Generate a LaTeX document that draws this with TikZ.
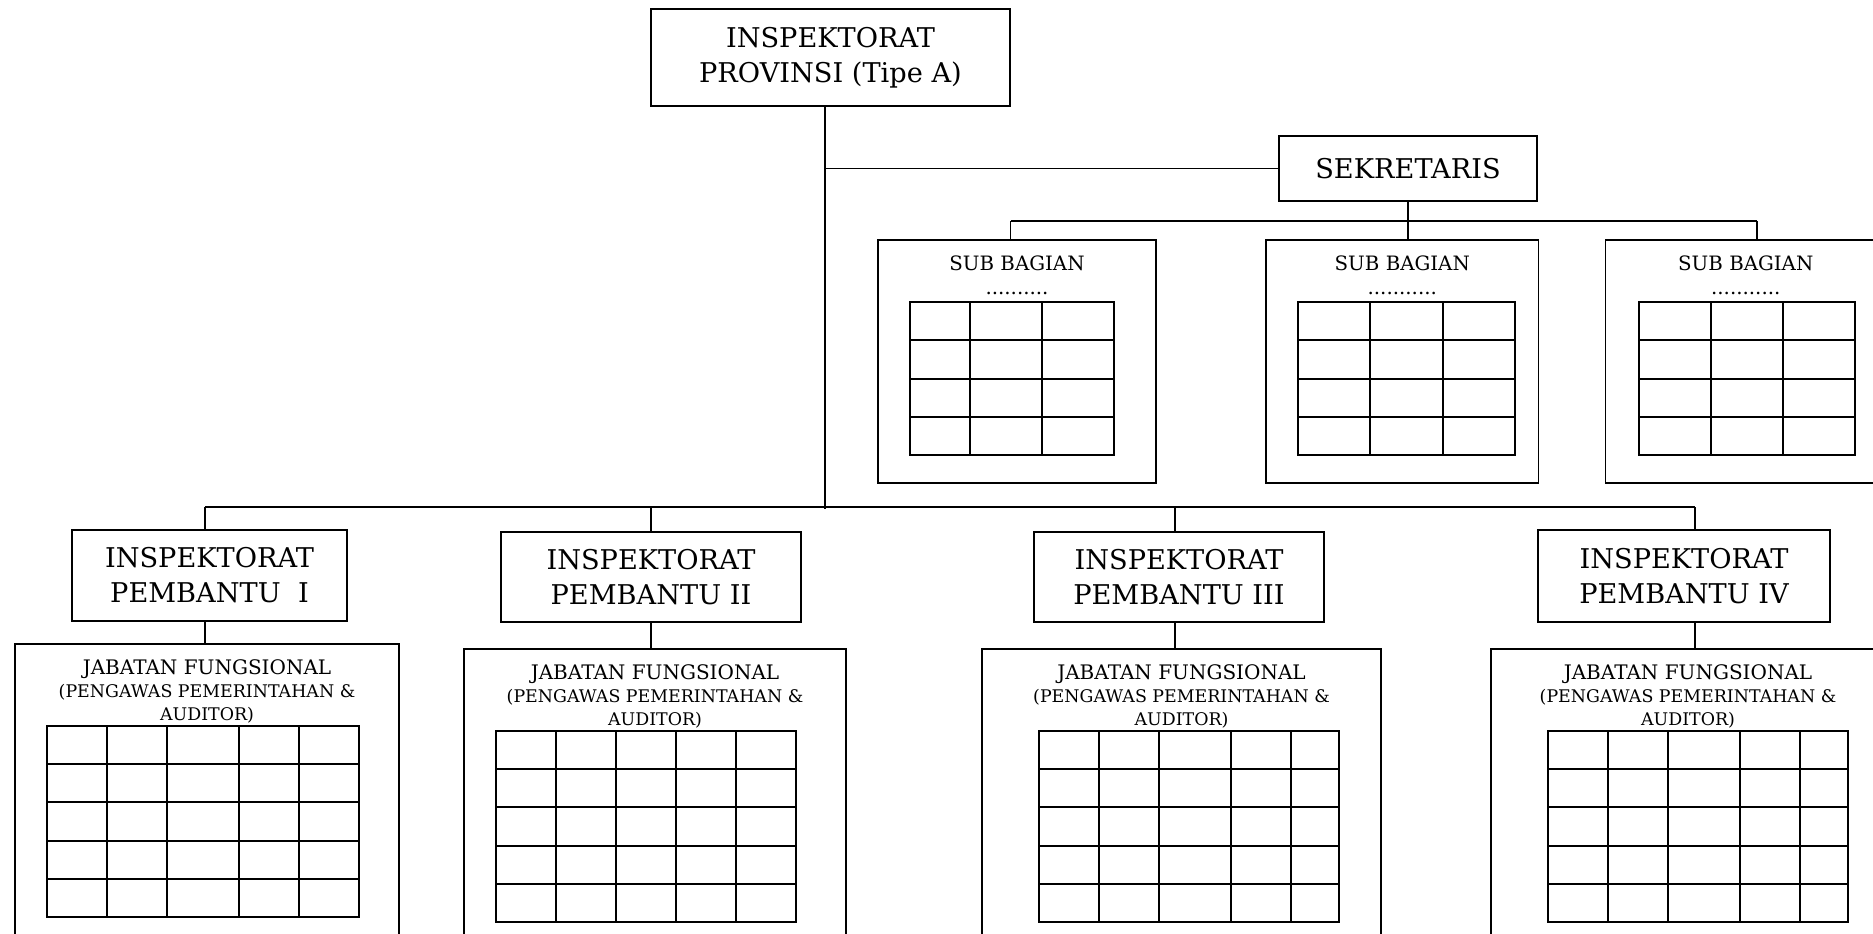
\documentclass[tikz,border=0pt]{standalone}
\usepackage{fontspec}
\setmainfont{DejaVu Serif}
\usetikzlibrary{positioning}
\newcommand{\fgsmall}{\fontsize{8.7}{11.5}\selectfont}

\begin{document}
\begin{tikzpicture}[
    x=0.5pt, y=-0.5pt,
    unitbox/.style={rectangle, draw, line width=0.9pt, align=center, inner sep=0pt,
                    font=\fontsize{13.6}{17.5}\selectfont},
    groupbox/.style={rectangle, draw, line width=0.95pt, inner sep=0pt},
    sblbl/.style={align=center, inner sep=0pt, font=\fontsize{9.9}{12}\selectfont},
    fglbl/.style={align=center, inner sep=0pt, font=\fontsize{10}{11.5}\selectfont},
    link/.style={line width=0.85pt},
    cell/.style={line width=1pt}
]
\useasboundingbox (0,0) rectangle (1873,933);
\clip (0,0) rectangle (1873,933);

%% -- Head and secretary ------------------------------------------
\node[unitbox, minimum width=179.5pt, minimum height=48.5pt] (top) at (830.5,57.5)
    {INSPEKTORAT\\PROVINSI (Tipe A)};
\node[unitbox, minimum width=129pt, minimum height=32.5pt] (sek) at (1408,168.5)
    {SEKRETARIS};

%% -- Sub bagian boxes --------------------------------------------
\node[groupbox, minimum width=139pt,    minimum height=121.3pt] (sb1) at (1017,361.3) {};
\node[groupbox, minimum width=136.25pt, minimum height=121.3pt] (sb2) at (1402.25,361.3) {};
\node[groupbox, minimum width=140.25pt, minimum height=121.3pt] (sb3) at (1745.75,361.3) {};

\node[sblbl, below=8pt of sb1.north] {SUB BAGIAN\\..........};
\node[sblbl, below=8pt of sb2.north] {SUB BAGIAN\\...........};
\node[sblbl, below=8pt of sb3.north] {SUB BAGIAN\\...........};

%% -- Inspektorat pembantu ----------------------------------------
\node[unitbox, minimum width=137.5pt, minimum height=45.5pt] (pb1) at (209.5,575.5)
    {INSPEKTORAT\\PEMBANTU\ \ I};
\node[unitbox, minimum width=150pt, minimum height=45pt] (pb2) at (651,577)
    {INSPEKTORAT\\PEMBANTU II};
\node[unitbox, minimum width=145pt, minimum height=45pt] (pb3) at (1179,577)
    {INSPEKTORAT\\PEMBANTU III};
\node[unitbox, minimum width=146pt, minimum height=46pt] (pb4) at (1684,576)
    {INSPEKTORAT\\PEMBANTU IV};

%% -- Jabatan fungsional boxes ------------------------------------
\node[groupbox, minimum width=192pt,   minimum height=160pt, below=10.5pt of pb1, xshift=-1.25pt] (jf1) {};
\node[groupbox, minimum width=191pt,   minimum height=160pt, below=12.5pt of pb2, xshift=2pt]     (jf2) {};
\node[groupbox, minimum width=199.5pt, minimum height=160pt, below=12.5pt of pb3, xshift=1.25pt]  (jf3) {};
\node[groupbox, minimum width=197pt,   minimum height=160pt, below=12.5pt of pb4, xshift=2pt]     (jf4) {};

\foreach \i in {1,...,4}
    \node[fglbl, below=8pt of jf\i.north]
        {JABATAN FUNGSIONAL\\{\fgsmall (PENGAWAS PEMERINTAHAN \&}\\{\fgsmall AUDITOR)}};

%% -- Tables ------------------------------------------------------
\foreach \xl/\xa/\xb/\xr in {910/970/1042/1114, 1298/1370/1443/1515, 1639/1711/1783/1855} {
    \draw[cell] (\xl,302) rectangle (\xr,455);
    \draw[cell] (\xa,302) -- (\xa,455) (\xb,302) -- (\xb,455);
    \foreach \y in {340.3,378.5,416.8}
        \draw[cell] (\xl,\y) -- (\xr,\y);
}
\foreach \xl/\xa/\xb/\xc/\xd/\xr/\yt in {46.7/107/166.5/238.5/299/359/726,
        496/556/616/676/736/796/731, 1039/1099/1159/1231/1291/1339/731,
        1548/1608/1668/1740/1800/1848/731} {
    \draw[cell] (\xl,\yt) rectangle (\xr,\yt+191);
    \foreach \x in {\xa,\xb,\xc,\xd}
        \draw[cell] (\x,\yt) -- (\x,\yt+191);
    \foreach \k in {1,...,4}
        \draw[cell] (\xl,\yt+38.2*\k) -- (\xr,\yt+38.2*\k);
}

%% -- Connectors --------------------------------------------------
\coordinate (trunk) at (825,509);
\draw[link] (top.south -| trunk) -- (trunk);
\draw[link] (sek.west -| trunk) -- (sek.west);

\coordinate (s1) at (1010.5,221);
\coordinate (s2) at (1408,221);
\coordinate (s3) at (1757,221);
\draw[link] (s1) -- (s3);
\draw[link] (sek.south) -- (s2);
\foreach \i in {1,2,3}
    \draw[link] (s\i) -- (s\i |- sb\i.north);

\coordinate (d1) at (205,507);
\coordinate (d2) at (651,507);
\coordinate (d3) at (1175,507);
\coordinate (d4) at (1695,507);
\draw[link] (d1) -- (d4);
\foreach \i in {1,...,4}
    \draw[link] (d\i) -- (d\i |- pb\i.north)
                (pb\i.south -| d\i) -- (jf\i.north -| d\i);

\end{tikzpicture}
\end{document}
